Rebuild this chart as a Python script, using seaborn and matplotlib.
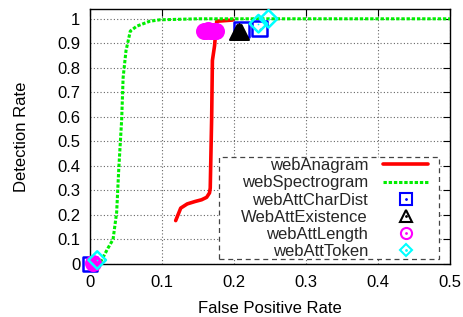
import matplotlib
matplotlib.use("Agg")
import matplotlib.pyplot as plt
import seaborn as sns
import pandas as pd
from matplotlib.lines import Line2D
from matplotlib.patches import Rectangle
from matplotlib.legend_handler import HandlerTuple

# ---- data ----
anagram_fpr = [0.119, 0.126, 0.135, 0.146, 0.155, 0.162, 0.166, 0.167, 0.169, 0.170, 0.173, 0.175, 0.176, 0.185, 0.198]
anagram_dr = [0.177, 0.228, 0.245, 0.255, 0.262, 0.272, 0.29, 0.31, 0.60, 0.83, 0.89, 0.96, 0.99, 0.992, 0.995]

spectro_fpr = [0.0, 0.015, 0.025, 0.032, 0.037, 0.040, 0.044, 0.046, 0.050, 0.056, 0.065, 0.083, 0.097, 0.15, 0.5]
spectro_dr = [0.0, 0.01, 0.065, 0.10, 0.21, 0.39, 0.59, 0.76, 0.87, 0.95, 0.97, 0.99, 0.996, 1.0, 1.0]

chardist_fpr = [0.0, 0.210, 0.236]
chardist_dr = [0.0, 0.956, 0.959]

existence_fpr = [0.204, 0.207, 0.210]
existence_dr = [0.948, 0.952, 0.948]

length_fpr = [0.004, 0.158, 0.161, 0.164, 0.167, 0.170, 0.173, 0.175]
length_dr = [0.004, 0.952, 0.950, 0.953, 0.951, 0.952, 0.950, 0.952]

token_fpr = [0.010, 0.234, 0.248]
token_dr = [0.016, 0.980, 1.0]

labels = ["webAnagram", "webSpectrogram", "webAttCharDist",
          "WebAttExistence", "webAttLength", "webAttToken"]
x_ticks = [0, 0.1, 0.2, 0.3, 0.4, 0.5]
y_ticks = [0, 0.1, 0.2, 0.3, 0.4, 0.5, 0.6, 0.7, 0.8, 0.9, 1.0]

# ---- style ----
sns.set_theme(style="white")
plt.rcParams["font.family"] = ["Liberation Sans", "DejaVu Sans"]
plt.rcParams["font.size"] = 12

fig = plt.figure(figsize=(4.63, 3.17), dpi=100)
ax = fig.add_axes([90 / 463, (317 - 264) / 317, 360 / 463, 255 / 317])

RED = "#ff0000"
GREEN = "#00ee00"
BLUE = "#0000ff"
BLACK = "#000000"
MAG = "#ff00ff"
CYAN = "#00ffff"

df_an = pd.DataFrame({"fpr": anagram_fpr, "dr": anagram_dr})
df_sp = pd.DataFrame({"fpr": spectro_fpr, "dr": spectro_dr})

sns.lineplot(data=df_an, x="fpr", y="dr", sort=False, estimator=None,
             color=RED, lw=2.6, ax=ax, zorder=4)
sns.lineplot(data=df_sp, x="fpr", y="dr", sort=False, estimator=None,
             color=GREEN, lw=2.2, ax=ax, zorder=5, dashes=False)
ax.lines[-1].set_linestyle((0, (1.1, 0.6)))

msize = 115
# open markers with center dots
sns.scatterplot(x=chardist_fpr, y=chardist_dr, marker="s", s=msize, facecolor="none",
                edgecolor=BLUE, linewidth=1.8, ax=ax, zorder=6, clip_on=False)
sns.scatterplot(x=chardist_fpr, y=chardist_dr, marker=".", s=6, color=BLUE,
                linewidth=0, ax=ax, zorder=6, clip_on=False)
# filled-looking clusters
sns.scatterplot(x=length_fpr, y=length_dr, marker="o", s=msize, color=MAG,
                edgecolor=MAG, linewidth=1.5, ax=ax, zorder=6, clip_on=False)
sns.scatterplot(x=existence_fpr, y=existence_dr, marker="^", s=msize, color=BLACK,
                edgecolor=BLACK, linewidth=1.5, ax=ax, zorder=7, clip_on=False)
sns.scatterplot(x=token_fpr, y=token_dr, marker="D", s=80, facecolor="none",
                edgecolor=CYAN, linewidth=1.8, ax=ax, zorder=8, clip_on=False)
sns.scatterplot(x=token_fpr, y=token_dr, marker=".", s=6, color=CYAN,
                linewidth=0, ax=ax, zorder=8, clip_on=False)

ax.set_xlim(0, 0.5)
ax.set_ylim(0, 1.04)
ax.set_xticks(x_ticks)
ax.set_xticklabels(["0", "0.1", "0.2", "0.3", "0.4", "0.5"])
ax.set_yticks(y_ticks)
ax.set_yticklabels(["0", "0.1", "0.2", "0.3", "0.4", "0.5", "0.6", "0.7", "0.8", "0.9", "1"])
ax.tick_params(axis="both", direction="in", length=5, width=0.8, color="black",
               labelsize=12, top=True, right=True, labelcolor="black")
ax.tick_params(axis="y", pad=7)
ax.tick_params(axis="x", pad=8)
ax.grid(True, color="#666666", linestyle=(0, (1, 2)), linewidth=0.8)
ax.set_axisbelow(True)
for sp in ax.spines.values():
    sp.set_color("black")
    sp.set_linewidth(1.0)
    sp.set_visible(True)

ax.set_xlabel("False Positive Rate", fontsize=12, labelpad=8, color="black")
ax.set_ylabel("Detection Rate", fontsize=12, labelpad=20, color="black")

# legend box
box = Rectangle((0.358, 0.02), 0.611, 0.40, transform=ax.transAxes,
                facecolor="white", edgecolor="#444444", linestyle=(0, (4, 3)),
                linewidth=0.9, zorder=3)
ax.add_patch(box)

h_an = Line2D([], [], color=RED, lw=2.6)
h_sp = Line2D([], [], color=GREEN, lw=2.2, linestyle=(0, (1.1, 0.6)))

def mk(marker, color, ms):
    return (Line2D([], [], linestyle="none", marker=marker, markersize=ms,
                   markerfacecolor="none", markeredgecolor=color, markeredgewidth=1.5),
            Line2D([], [], linestyle="none", marker=".", markersize=2, color=color))

handles = [h_an, h_sp, mk("s", BLUE, 8), mk("^", BLACK, 8), mk("o", MAG, 8), mk("D", CYAN, 6.5)]
leg = ax.legend(handles, labels, loc="upper right", bbox_to_anchor=(0.939, 0.415),
                frameon=False, markerfirst=False, borderpad=0, borderaxespad=0,
                labelspacing=0.13, handlelength=2.7, handletextpad=0.9, fontsize=12,
                handler_map={tuple: HandlerTuple(ndivide=1)})
leg.set_zorder(10)

fig.savefig("out.png", dpi=100)
